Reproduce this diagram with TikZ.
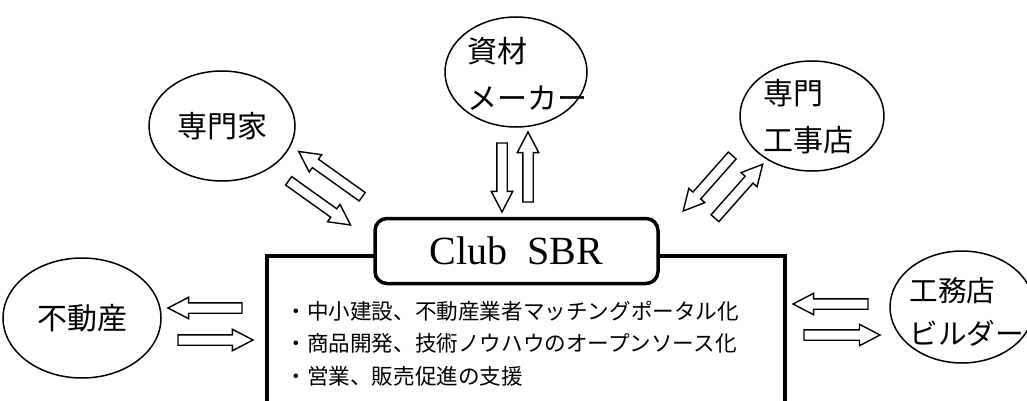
\documentclass[tikz,border=0pt]{standalone}
\usepackage{fontspec}
\newfontfamily\jpfont{Noto Sans CJK JP}
\newfontfamily\clubfont{Liberation Serif}
\usetikzlibrary{shapes.geometric}
\usetikzlibrary{shapes.arrows}
\tikzset{
    % Partners round the club are plain ellipses
    party/.style={draw, ellipse, line width=0.75pt, inner sep=0pt},
%
    % Japanese labels set into the ellipses
    party text/.style={font=\jpfont\fontsize{15}{23.5}\selectfont,
        inner sep=0pt, align=left},
%
    % One line of the club's task list
    task/.style={anchor=west, inner sep=0pt,
        font=\jpfont\fontsize{10.8}{12.5}\selectfont},
%
    % A hollow block arrow, the value is its length
    block arrow/.style={
        single arrow, draw, line width=0.7pt, inner sep=2.25pt,
        minimum height=#1,
        single arrow head extend=2.75pt, single arrow tip angle=55},
%
    % The heavy outline of the club
    heavy line/.style={line width=1.75pt}}

\begin{document}
\begin{tikzpicture}[x=0.5pt, y=-0.5pt]
\clip (0,0) rectangle (1027,401);

% the club frame, open at the bottom
\draw [heavy line] (267,401) -- (267,256) -- (785,256) -- (785,401);
\node (club) [heavy line, draw, fill=white, rounded corners=6pt,
    minimum width=141.5pt, minimum height=32.5pt,
    font=\clubfont\fontsize{20}{22}\selectfont] at (516.5,251) {Club\ \ SBR};
\node (taskA) [task] at (285,311) {・中小建設、不動産業者マッチングポータル化};
\node (taskB) [task] at (285,343.5) {・商品開発、技術ノウハウのオープンソース化};
\node (taskC) [task] at (285,376) {・営業、販売促進の支援};

% partners
\node (expert) [party, minimum width=73pt, minimum height=55pt] at (222,126) {};
\node (expertText) [party text] at (expert.center) {専門家};
\node (maker) [party, minimum width=71pt, minimum height=55pt] at (516,72) {};
\node (makerText) [party text, anchor=west] at (467,74) {資材\\メーカー};
\node (shop) [party, minimum width=72pt, minimum height=55pt] at (812,116) {};
\node (shopText) [party text, anchor=west] at (763,117) {専門\\工事店};
\node (estate) [party, minimum width=79pt, minimum height=60pt] at (82,318) {};
\node (estateText) [party text] at (estate.center) {不動産};
\node (builder) [party, minimum width=72pt, minimum height=56pt] at (962,307) {};
\node (builderText) [party text, anchor=west,
    font=\jpfont\fontsize{14.3}{21.5}\selectfont] at (909,312) {工務店\\ビルダー};

% two way flows
\node (expertIn) [block arrow=39pt, rotate=144.5] at (334.5,177) {};
\node (expertOut) [block arrow=38pt, rotate=-35.5] at (315.5,200) {};
\node (makerDown) [block arrow=34.5pt, rotate=-90] at (502,172.5) {};
\node (makerUp) [block arrow=35pt, rotate=90] at (528,172) {};
\node (shopOut) [block arrow=37pt, rotate=228.5] at (711,179.5) {};
\node (shopIn) [block arrow=36pt, rotate=48.5] at (735.5,195) {};
\node (estateIn) [block arrow=37pt, rotate=180] at (210,308) {};
\node (estateOut) [block arrow=37.5pt] at (210.5,340) {};
\node (builderIn) [block arrow=37.5pt, rotate=180] at (835.5,304) {};
\node (builderOut) [block arrow=38pt] at (837,335) {};

\end{tikzpicture}
\end{document}
